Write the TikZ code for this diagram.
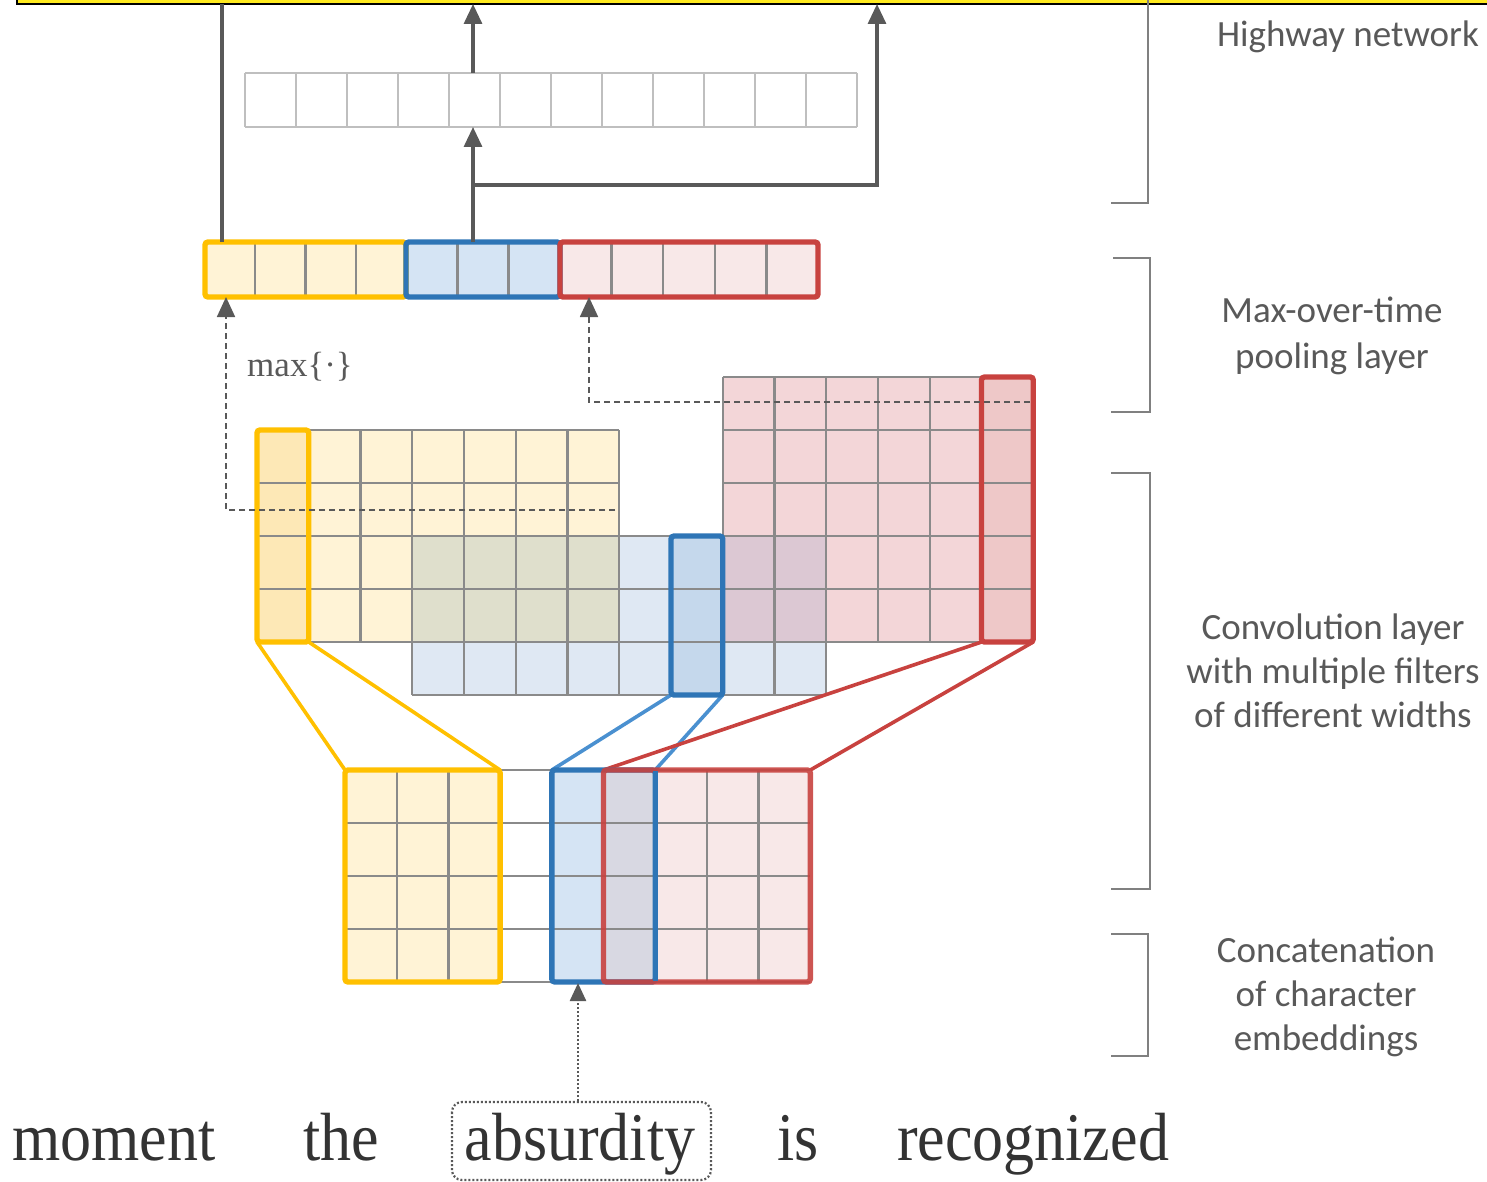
\documentclass[tikz,border=0pt]{standalone}
\usepackage{fontspec}
\setmainfont{Liberation Serif}
\newfontfamily\labelfont{Carlito}
\usetikzlibrary{arrows.meta,calc}

% palette
\definecolor{barYellow}{HTML}{FFEA1F}
\definecolor{yBorder}{HTML}{FFC000}
\definecolor{yFill}{HTML}{FFF3D6}
\definecolor{yHi}{HTML}{FDE8B6}
\definecolor{bBorder}{HTML}{2E75B6}
\definecolor{bLink}{HTML}{4A90D0}
\definecolor{bFill}{HTML}{DFE8F3}
\definecolor{bHi}{HTML}{C5D8EC}
\definecolor{bEmb}{HTML}{D5E4F4}
\definecolor{rBorder}{HTML}{C8423F}
\definecolor{rFill}{HTML}{F3D6D8}
\definecolor{rHi}{HTML}{EEC8C8}
\definecolor{rEmb}{HTML}{F8E8E8}
\definecolor{ybMix}{HTML}{DFDFCC}
\definecolor{rbMix}{HTML}{DCC8D3}
\definecolor{embMix}{HTML}{D8D8E2}
\definecolor{gridGray}{HTML}{8A8A8A}
\definecolor{lightGray}{HTML}{BFBFBF}
\definecolor{arrowGray}{HTML}{595959}
\definecolor{textGray}{HTML}{595959}
\definecolor{brGray}{HTML}{808080}

\tikzset{
  gridline/.style={draw=gridGray, line width=1.2pt},
  hilite/.style={line width=2.7pt, rounded corners=1.5pt},
  flow/.style={draw=arrowGray, line width=1.6pt},
  tip/.style={-{Triangle[width=9pt,length=10pt]}},
  dashflow/.style={draw=arrowGray, line width=0.9pt, dash pattern=on 3pt off 2pt},
  dotflow/.style={draw=arrowGray, line width=1.1pt, dash pattern=on 1pt off 1pt},
  link/.style={line width=1.8pt},
  bracket/.style={draw=brGray, line width=1pt},
  layerlabel/.style={font=\labelfont\fontsize{18.5}{22}\selectfont, text=textGray, align=center, inner sep=0pt},
  word/.style={font=\fontsize{31}{34}\selectfont, text=black!80, anchor=base, inner sep=0pt},
}

\begin{document}
\begin{tikzpicture}[x=0.5pt,y=-0.5pt]
\useasboundingbox (0,0) rectangle (1487,1182);
\clip (0,0) rectangle (1487,1182);

% ---- output bar at the top ----
\filldraw[fill=barYellow, draw=black, line width=1.3pt] (17,-30) rectangle (1530,4);

% ---- lattice of the convolution maps ----
\def\cw{51.75}\def\ch{53}
% fills
\fill[yFill] (257,430) rectangle (619.25,642);
\fill[bFill] (412.25,536) rectangle (826.25,695);
\fill[rFill] (722.75,377) rectangle (1033.25,642);
\fill[ybMix] (412.25,536) rectangle (619.25,642);
\fill[rbMix] (722.75,536) rectangle (826.25,642);
\fill[yHi] (257,430) rectangle (308.75,642);
\fill[bHi] (671,536) rectangle (722.75,695);
\fill[rHi] (981.5,377) rectangle (1033.25,642);
% yellow map grid (7 x 4)
\foreach \i in {0,...,7} \draw[gridline] ({257+\cw*\i},430) -- ({257+\cw*\i},642);
\foreach \j in {1,...,5} \draw[gridline] (257,{377+\ch*\j}) -- (619.25,{377+\ch*\j});
% blue map grid (8 x 3)
\foreach \i in {3,...,11} \draw[gridline] ({257+\cw*\i},536) -- ({257+\cw*\i},695);
\foreach \j in {3,...,6} \draw[gridline] (412.25,{377+\ch*\j}) -- (826.25,{377+\ch*\j});
% red map grid (6 x 5)
\foreach \i in {9,...,15} \draw[gridline] ({257+\cw*\i},377) -- ({257+\cw*\i},642);
\foreach \j in {0,...,5} \draw[gridline] (722.75,{377+\ch*\j}) -- (1033.25,{377+\ch*\j});

% named corners of the highlighted filter outputs
\coordinate (yhTL) at (257,430);    \coordinate (yhBL) at (257,642);    \coordinate (yhBR) at (308.75,642);
\coordinate (bhTL) at (671,536);    \coordinate (bhBL) at (671,695);    \coordinate (bhBR) at (722.75,695);
\coordinate (rhTL) at (981.5,377);  \coordinate (rhBL) at (981.5,642);  \coordinate (rhBR) at (1033.25,642);

% ---- character embeddings of "absurdity" (9 columns x 4 rows) ----
\def\ew{51.7}
\fill[yFill] (345,770) rectangle (500.1,982);
\fill[bEmb] (551.8,770) rectangle (603.5,982);
\fill[embMix] (603.5,770) rectangle (655.2,982);
\fill[rEmb] (655.2,770) rectangle (810.3,982);
\foreach \j in {0,...,4} \draw[gridline] (345,{770+\ch*\j}) -- (810.3,{770+\ch*\j});
\foreach \k in {1,2,7,8} \draw[gridline] ({345+\ew*\k},770) -- ({345+\ew*\k},982);

\coordinate (eyTL) at (345,770);   \coordinate (eyTR) at (500.1,770);
\coordinate (ebTL) at (551.8,770); \coordinate (ebTR) at (655.2,770);
\coordinate (erTL) at (603.5,770); \coordinate (erTR) at (810.3,770);

% links from filter windows to their outputs
\draw[link, yBorder] (yhBL) -- (eyTL) (yhBR) -- (eyTR);
\draw[link, bLink] (bhBL) -- (ebTL) (bhBR) -- (ebTR);
\draw[link, rBorder] (rhBL) -- (erTL) (rhBR) -- (erTR);

% filter windows on the embeddings
\draw[hilite, yBorder] (eyTL) rectangle (500.1,982);
\draw[hilite, bBorder] (ebTL) rectangle (655.2,982);
\draw[hilite, rBorder, draw opacity=0.9] (erTL) rectangle (810.3,982);
\draw[line width=2.7pt, bBorder] (655.2,771) -- (655.2,981);

% highlighted output columns
\draw[hilite, yBorder] (yhTL) rectangle (yhBR);
\draw[hilite, bBorder] (bhTL) rectangle (bhBR);
\draw[hilite, rBorder] (rhTL) rectangle (rhBR);

% ---- pooled vector ----
\fill[yFill] (205,242) rectangle (406,297);
\fill[bEmb] (406,242) rectangle (560,297);
\fill[rEmb] (560,242) rectangle (818,297);
\foreach \x in {255.25,305.5,355.75, 457.3,508.6, 611.6,663.2,714.8,766.4}
  \draw[gridline] (\x,242) -- (\x,297);
\draw[hilite, yBorder] (205,242) rectangle (406,297);
\draw[hilite, bBorder] (406,242) rectangle (560,297);
\draw[hilite, rBorder] (560,242) rectangle (818,297);
\coordinate (poolY) at (226,297);
\coordinate (poolR) at (589,297);
\coordinate (poolYtop) at (222,242);
\coordinate (poolBtop) at (473,242);

% max-over-time arrows
\coordinate (maxY) at (615,510);
\coordinate (maxR) at (1030,402);
\draw[dashflow, tip] (maxY) -- (226,510) -- (poolY);
\draw[dashflow, tip] (maxR) -- (589,402) -- (poolR);
\node[font=\fontsize{17.5}{20}\selectfont, text=textGray, inner sep=0pt] (maxlabel) at (300,367) {max\{·\}};

% ---- highway layer ----
\foreach \i in {0,...,12} \draw[draw=lightGray, line width=1pt] ({245+51*\i},73) -- ({245+51*\i},127);
\draw[draw=lightGray, line width=1.2pt] (245,73) -- (857,73) (245,127) -- (857,127);
\coordinate (hwBot) at (473,127);
\coordinate (hwTop) at (473,73);
\coordinate (split) at (473,185);
\coordinate (outL) at (222,4);
\coordinate (outM) at (473,4);
\coordinate (outR) at (877,4);

\draw[flow] (poolYtop) -- (outL);
\draw[flow, tip] (poolBtop) -- (hwBot);
\draw[flow, tip] (split) -- (877,185) -- (outR);
\draw[flow, tip] (hwTop) -- (outM);

% ---- input words ----
\node[word] (w1) at (114,1160) {\scalebox{1}[1.1]{moment}};
\node[word] (w2) at (341,1160) {\scalebox{1}[1.1]{the}};
\node[word] (w3) at (580,1160) {\scalebox{1}[1.1]{absurdity}};
\node[word] (w4) at (798,1160) {\scalebox{1}[1.1]{is}};
\node[word] (w5) at (1033,1160) {\scalebox{1}[1.1]{recognized}};
\draw[dotflow, rounded corners=5pt] (452,1102) rectangle (711,1180);
\coordinate (wordTop) at (578,1101);
\coordinate (embBot) at (578,983);
\draw[dotflow, line width=1.2pt, -{Triangle[width=8pt,length=9pt]}] (wordTop) -- (embBot);

% ---- layer brackets and labels ----
\draw[bracket] (1148,0) -- (1148,203) -- (1111,203);
\draw[bracket] (1113,258) -- (1150,258) -- (1150,412) -- (1111,412);
\draw[bracket] (1111,473) -- (1150,473) -- (1150,889) -- (1111,889);
\draw[bracket] (1111,934) -- (1148,934) -- (1148,1056) -- (1111,1056);

\node[layerlabel] (lhw) at (1348,37) {Highway network};
\node[layerlabel] (lmp) at (1332,336) {Max-over-time\\[1pt]pooling layer};
\node[layerlabel] (lcv) at (1333,671) {Convolution layer\\with multiple filters\\of different widths};
\node[layerlabel] (lce) at (1326,997) {Concatenation\\of character\\embeddings};
\end{tikzpicture}
\end{document}
